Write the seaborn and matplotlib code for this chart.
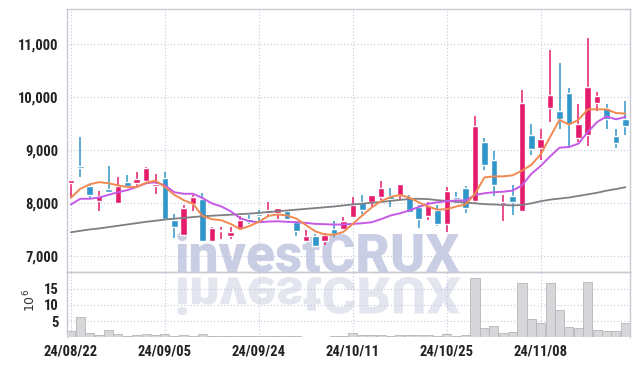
import matplotlib
matplotlib.use("Agg")
import matplotlib.pyplot as plt
import seaborn as sns
import pandas as pd
from matplotlib.textpath import TextPath
from matplotlib.font_manager import FontProperties
from matplotlib.patches import PathPatch
from matplotlib.transforms import Affine2D

# --- datos (precio en KRW, volumen en millones) ---
opens = [8372, 8695, 8309, 8030, 8252, 8000, 8390, 8372, 8410, 8322,
         8474, 7677, 7390, 7968, 8076, 7284, 7461, 7380, 7525, 7698,
         7790, 7803, 7803, 7841, 7645, 7284, 7380, 7271, 7507, 7507,
         7727, 8011, 8011, 8106, 8120, 8139, 8106, 7916, 7746, 7867,
         7601, 8106, 8277, 8030, 9150, 8803, 7981, 8120, 7841, 9277,
         9044, 9795, 9738, 10080, 9226, 9277, 9890, 9802, 9258, 9580]
highs = [8440, 9245, 8347, 8220, 8690, 8490, 8520, 8590, 8670, 8550,
         8580, 7790, 7950, 8140, 8182, 7550, 7550, 7550, 7746, 7760,
         7867, 8011, 7905, 7867, 7650, 7493, 7412, 7423, 7664, 7727,
         8106, 8139, 8150, 8404, 8285, 8350, 8139, 7949, 8011, 7949,
         8290, 8201, 8309, 9638, 9233, 8974, 8139, 8328, 10131, 9499,
         9404, 10889, 10649, 10175, 9879, 11113, 10099, 9864, 9404, 9922]
lows = [8106, 8486, 8063, 7841, 8190, 7970, 8296, 8320, 8405, 8171,
        7690, 7336, 7380, 7854, 7280, 7252, 7317, 7317, 7507, 7600,
        7664, 7759, 7696, 7690, 7380, 7284, 7180, 7209, 7347, 7500,
        7720, 7791, 7916, 8057, 7916, 8076, 7815, 7525, 7677, 7570,
        7450, 7992, 7803, 7968, 8626, 8120, 7664, 7772, 7830, 8898,
        8803, 9530, 9404, 9055, 9150, 9068, 9738, 9404, 9036, 9277]
closes = [8437, 8664, 8152, 8120, 8201, 8309, 8315, 8442, 8665, 8360,
          7700, 7537, 7905, 8106, 7285, 7518, 7487, 7442, 7677, 7645,
          7746, 7867, 7898, 7696, 7461, 7380, 7190, 7398, 7412, 7651,
          7949, 7873, 8139, 8285, 8076, 8347, 7822, 7696, 7949, 7601,
          8220, 8076, 7898, 9446, 8720, 8328, 8011, 8011, 9890, 9025,
          9201, 10036, 9594, 9499, 9486, 10194, 10016, 9580, 9130, 9446]

ma_corta = [8095, 8266, 8350, 8391, 8370, 8330, 8300, 8300, 8380, 8420,
            8300, 8150, 8050, 7980, 7750, 7690, 7670, 7600, 7500, 7560,
            7640, 7750, 7780, 7760, 7700, 7580, 7460, 7400, 7395, 7450,
            7600, 7760, 7910, 8030, 8110, 8150, 8100, 8010, 7930, 7870,
            7880, 7930, 7970, 8170, 8480, 8500, 8500, 8520, 8610, 8720,
            8920, 9250, 9570, 9480, 9570, 9770, 9770, 9770, 9700, 9690]
ma_media = [7968, 8076, 8076, 8100, 8150, 8200, 8240, 8300, 8370, 8390,
            8330, 8200, 8171, 8171, 8090, 7990, 7930, 7840, 7710, 7650,
            7632, 7645, 7650, 7640, 7632, 7620, 7601, 7595, 7588, 7590,
            7600, 7613, 7632, 7690, 7759, 7800, 7854, 7920, 7981, 8010,
            8030, 8044, 8044, 8150, 8180, 8200, 8210, 8230, 8330, 8550,
            8700, 8879, 9044, 9055, 9120, 9340, 9530, 9638, 9580, 9625]
ma_larga = [7442, 7470, 7495, 7515, 7540, 7565, 7590, 7615, 7640, 7660,
            7683, 7700, 7715, 7730, 7745, 7755, 7765, 7775, 7785, 7795,
            7810, 7825, 7840, 7855, 7870, 7885, 7900, 7915, 7930, 7950,
            7968, 7985, 8000, 8015, 8035, 8055, 8070, 8076, 8070, 8050,
            8035, 8020, 8005, 7990, 7975, 7968, 7960, 7950, 7960, 7990,
            8030, 8060, 8080, 8100, 8130, 8160, 8190, 8230, 8260, 8295]

volumen = [2.0, 6.2, 1.2, 0.7, 2.2, 1.0, 0.3, 0.6, 0.9, 0.7,
           1.0, 0.4, 0.7, 0.4, 1.0, 0.4, 0.5, 0.5, 0.4, 0.4,
           0.4, 0.4, 0.4, 0.4, 0.3, 0.05, 0.05, 0.05, 0.4, 0.4,
           1.3, 0.7, 0.7, 0.7, 0.4, 0.7, 0.7, 0.7, 0.7, 0.4,
           1.0, 0.4, 0.7, 18.3, 2.8, 3.5, 1.2, 1.7, 16.8, 5.6,
           4.3, 16.8, 8.3, 3.3, 2.8, 17.0, 2.3, 2.0, 2.0, 4.3]

etiquetas_x = ['24/08/22', '24/09/05', '24/09/24', '24/10/11', '24/10/25', '24/11/08']
pos_x = [0, 10, 20, 30, 40, 50]

df = pd.DataFrame({'o': opens, 'h': highs, 'l': lows, 'c': closes,
                   'ma5': ma_corta, 'ma20': ma_media, 'ma60': ma_larga,
                   'vol': volumen})
df['idx'] = range(len(df))

sns.set_style("white")
plt.rcParams['font.family'] = ['Roboto', 'DejaVu Sans']

fp_ejes = FontProperties(family=['Roboto Condensed', 'Roboto'], weight='heavy', size=10.5)
fp_marca = FontProperties(family='Roboto', weight='heavy', size=40)

ROJO = '#e51c6b'
AZUL = '#3196c9'
GRID = '#c3c7de'
BORDE = '#c8c9d2'

fig = plt.figure(figsize=(6.39, 3.66), dpi=100)

# --- marca de agua (detras de todo) ---
marca = fig.text(175 / 639, 1 - 272 / 366, 'investCRUX', fontproperties=fp_marca,
                 color='#c9cee5', ha='left', va='baseline', zorder=0)
fig.canvas.draw()
ancho = marca.get_window_extent().width
fp_marca.set_size(40 * 285 / ancho)
marca.set_fontproperties(fp_marca)

# reflejo invertido
fondo = fig.add_axes([0, 0, 1, 1], zorder=0)
fondo.set_xlim(0, 639)
fondo.set_ylim(366, 0)
fondo.axis('off')
tp = TextPath((0, 0), "investCRUX", prop=fp_marca, size=fp_marca.get_size() * 100 / 72)
bb = tp.get_extents()
t2 = Affine2D().translate(-bb.x0, -bb.y0).scale(1, 0.95).translate(175 + bb.x0, 277)
fondo.add_patch(PathPatch(t2.transform_path(tp), color='#e3e5ef', lw=0))

ax = fig.add_axes([0.1044, 0.2577, 0.8816, 0.717], zorder=1)
axv = fig.add_axes([0.1044, 0.0784, 0.8816, 0.1793], zorder=1, sharex=ax)
for a in (ax, axv):
    a.set_facecolor('none')
    for s in a.spines.values():
        s.set_color(BORDE)
        s.set_linewidth(1)
    a.grid(True, color=GRID, linestyle=(0, (1, 2)), linewidth=0.8)
    a.set_xticks(pos_x)
    a.tick_params(length=0)
axv.spines['bottom'].set_visible(False)

# --- velas ---
sube = df['c'] >= df['o']
colores = [ROJO if s else AZUL for s in sube]
cuerpo = (df['c'] - df['o']).abs().clip(lower=28)
base = df[['o', 'c']].min(axis=1)
ax.vlines(df['idx'], df['l'], df['h'], colors=colores, linewidth=1.1, zorder=3)
ax.bar(df['idx'], cuerpo, bottom=base, width=0.7, color=colores, zorder=4)

# --- medias moviles ---
sns.lineplot(data=df, x='idx', y='ma60', ax=ax, color='#7f7f84', linewidth=1.3, zorder=5)
sns.lineplot(data=df, x='idx', y='ma20', ax=ax, color='#c65ae6', linewidth=1.4, zorder=5)
sns.lineplot(data=df, x='idx', y='ma5', ax=ax, color='#f08a52', linewidth=1.4, zorder=5)

ax.set_xlim(-0.45, 59.5)
ax.set_ylim(6696, 11664)
ax.set_yticks([7000, 8000, 9000, 10000, 11000])
ax.set_yticklabels(['7,000', '8,000', '9,000', '10,000', '11,000'])
ax.set_xlabel('')
ax.set_ylabel('')
ax.tick_params(axis='x', labelbottom=False)

# --- volumen ---
axv.bar(df['idx'], df['vol'], width=0.96, color='#d7d7da', edgecolor='#b5b5ba',
        linewidth=0.6, zorder=3)
axv.set_ylim(0, 20.3)
axv.set_yticks([5, 10, 15])
axv.set_yticklabels(['5', '10', '15'])
axv.set_xticklabels(etiquetas_x)
axv.set_xlabel('')
axv.set_ylabel('')
fig.text(0.047, 0.18, r'$10^6$', rotation=90, ha='center', va='center',
         fontsize=9, color='#333333', family='DejaVu Sans')

for a in (ax, axv):
    for lab in a.get_yticklabels() + a.get_xticklabels():
        lab.set_fontproperties(fp_ejes)
        lab.set_color('#222222')
    a.tick_params(axis='y', pad=6)
axv.tick_params(axis='x', pad=5)

fig.savefig('out.png', dpi=100)
